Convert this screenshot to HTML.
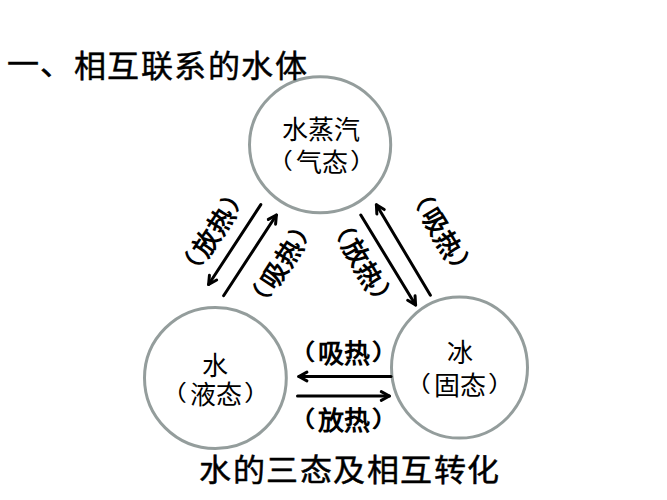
<!DOCTYPE html>
<html lang="zh-CN">
<head>
<meta charset="utf-8">
<style>
html,body{margin:0;padding:0;background:#ffffff;}
body{width:667px;height:500px;position:relative;overflow:hidden;font-family:"Liberation Sans",sans-serif;color:#000;}
.t{position:absolute;white-space:nowrap;line-height:1;text-spacing-trim:space-all;font-kerning:none;}
svg{position:absolute;left:0;top:0;}
.lp,.rp{display:inline-block;transform-origin:50% 10%;}
.lp{transform:translateX(-3px) scaleY(0.86);}
.rp{transform:translateX(2px) scaleY(0.86);}
</style>
</head>
<body>
<svg width="667" height="500" viewBox="0 0 667 500">
<g fill="none" stroke="#949d9c" stroke-width="3">
<ellipse cx="320.1" cy="144.8" rx="70.6" ry="68"/>
<ellipse cx="215.4" cy="378" rx="70.9" ry="70.5"/>
<ellipse cx="459.5" cy="367.6" rx="68" ry="70.5"/>
</g>
<g fill="none" stroke="#000" stroke-width="3.0" stroke-linecap="round" stroke-linejoin="round">
<line x1="260.8" y1="204.6" x2="208.6" y2="284.5"/>
<polyline points="216.66,280.06 208.6,284.5 209.43,275.34"/>
<line x1="223.6" y1="295.7" x2="276.4" y2="215"/>
<polyline points="268.34,219.43 276.4,215 275.57,224.16"/>
<line x1="360.8" y1="215" x2="415.6" y2="305"/>
<polyline points="415.06,295.82 415.6,305 407.69,300.31"/>
<line x1="430.4" y1="295.2" x2="376.4" y2="204.8"/>
<polyline points="376.86,213.99 376.4,204.8 384.27,209.56"/>
<line x1="391" y1="376.5" x2="298.8" y2="376.5"/>
<polyline points="306.92,380.82 298.8,376.5 306.92,372.18"/>
<line x1="297.5" y1="396" x2="389.4" y2="396"/>
<polyline points="381.28,391.68 389.4,396 381.28,400.32"/>
</g>
</svg>
<div class="t" id="title" style="left:6.5px;top:50.75px;font-size:32px;letter-spacing:1.5px;-webkit-text-stroke:0.5px #000;transform:scaleY(0.95);transform-origin:50% 0;"><span style="position:relative;top:-2px">一、</span>相互联系的水体</div>
<div class="t" id="c1a" style="left:282px;top:117px;font-size:26px;">水蒸汽</div>
<div class="t" id="c1b" style="left:269.5px;top:149.6px;font-size:26px;"><span class="lp">（</span>气态<span class="rp">）</span></div>
<div class="t" id="c2a" style="left:202px;top:353px;font-size:26px;">水</div>
<div class="t" id="c2b" style="left:163.75px;top:382px;font-size:26px;"><span class="lp">（</span>液态<span class="rp">）</span></div>
<div class="t" id="c3a" style="left:447.35px;top:340.2px;font-size:26px;">冰</div>
<div class="t" id="c3b" style="left:408.2px;top:372.5px;font-size:26px;"><span class="lp">（</span>固态<span class="rp">）</span></div>
<div class="t" id="h1" style="left:292px;top:340.7px;font-size:26px;font-weight:700;"><span class="lp">（</span>吸热<span class="rp">）</span></div>
<div class="t" id="h2" style="left:292.35px;top:408.4px;font-size:26px;font-weight:700;"><span class="lp">（</span>放热<span class="rp">）</span></div>
<div class="t" id="d1" style="left:161.7px;top:218.5px;font-size:26px;font-weight:700;transform:rotate(-57deg);"><span class="lp">（</span>放热<span class="rp">）</span></div>
<div class="t" id="d2" style="left:230.4px;top:250.5px;font-size:26px;font-weight:700;transform:rotate(-57deg);"><span class="lp">（</span>吸热<span class="rp">）</span></div>
<div class="t" id="d3" style="left:309.7px;top:250.75px;font-size:26px;font-weight:700;transform:rotate(59deg);"><span class="lp">（</span>放热<span class="rp">）</span></div>
<div class="t" id="d4" style="left:388.8px;top:220px;font-size:26px;font-weight:700;transform:rotate(59deg);"><span class="lp">（</span>吸热<span class="rp">）</span></div>
<div class="t" id="cap" style="left:199.25px;top:455px;font-size:32px;letter-spacing:1.5px;-webkit-text-stroke:0.5px #000;transform:scaleY(0.95);transform-origin:50% 0;">水的三态及相互转化</div>
</body>
</html>
